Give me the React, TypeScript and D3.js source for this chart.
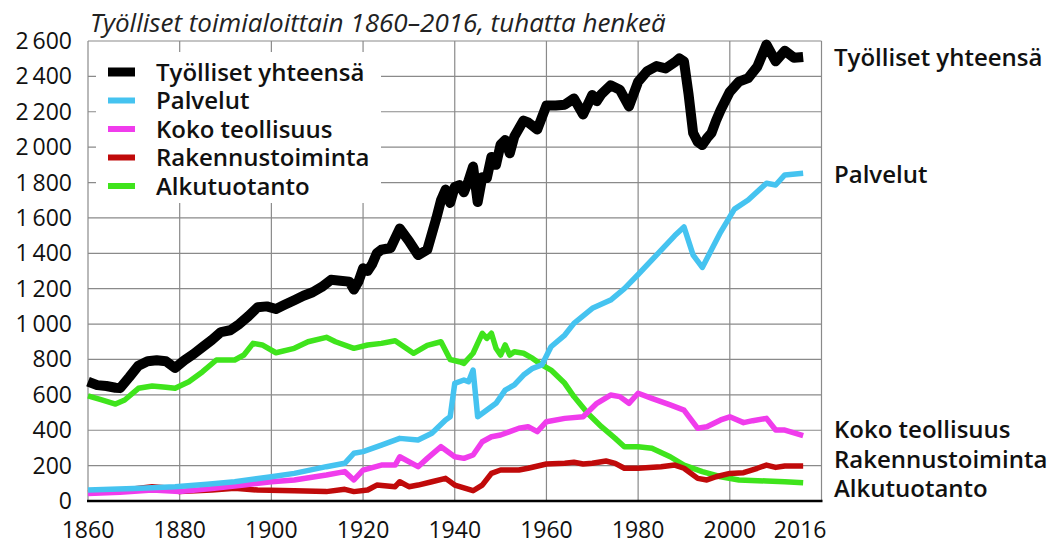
import * as d3 from 'd3';

// Työlliset toimialoittain 1860–2016, tuhatta henkeä
const total: [number, number][] = [
  [1860, 675], [1862, 655], [1864, 650], [1866, 640], [1867, 638], [1869, 700], [1871, 765], [1873, 790],
  [1875, 795], [1877, 790], [1879, 752], [1881, 795], [1883, 830], [1885, 870], [1887, 910], [1889, 955],
  [1891, 965], [1893, 1000], [1895, 1045], [1897, 1095], [1899, 1100], [1901, 1085], [1903, 1110], [1905, 1135],
  [1907, 1160], [1909, 1180], [1911, 1210], [1913, 1250], [1915, 1245], [1917, 1240], [1918, 1195], [1919, 1240],
  [1920, 1315], [1921, 1300], [1922, 1340], [1923, 1400], [1924, 1420], [1926, 1430], [1928, 1540], [1930, 1470],
  [1932, 1390], [1934, 1420], [1936, 1600], [1937, 1700], [1938, 1760], [1939, 1685], [1940, 1775], [1941, 1785],
  [1942, 1745], [1943, 1810], [1944, 1890], [1945, 1690], [1946, 1830], [1947, 1825], [1948, 1945], [1949, 1900],
  [1950, 2015], [1951, 2040], [1952, 1965], [1953, 2060], [1954, 2105], [1955, 2150], [1956, 2140], [1958, 2100],
  [1960, 2235], [1962, 2235], [1964, 2240], [1966, 2275], [1968, 2185], [1970, 2295], [1971, 2260], [1972, 2300],
  [1974, 2350], [1976, 2325], [1978, 2230], [1980, 2370], [1982, 2430], [1984, 2458], [1986, 2445], [1988, 2480],
  [1989, 2502], [1990, 2485], [1991, 2300], [1992, 2080], [1993, 2030], [1994, 2012], [1995, 2050], [1996, 2080],
  [1997, 2150], [1998, 2210], [2000, 2313], [2002, 2370], [2004, 2390], [2006, 2455], [2008, 2580], [2010, 2485],
  [2012, 2545], [2014, 2505], [2016, 2510],
];

const services: [number, number][] = [
  [1860, 62], [1870, 70], [1879, 81], [1886, 95], [1892, 109], [1900, 137], [1905, 156], [1912, 194],
  [1916, 213], [1918, 270], [1920, 279], [1924, 316], [1928, 354], [1932, 345], [1935, 383], [1938, 458],
  [1939, 476], [1940, 665], [1942, 684], [1943, 674], [1944, 740], [1945, 476], [1947, 514], [1949, 552],
  [1951, 627], [1953, 656], [1955, 712], [1957, 750], [1959, 769], [1961, 872], [1964, 938], [1966, 1004],
  [1970, 1089], [1974, 1136], [1977, 1200], [1980, 1280], [1984, 1390], [1988, 1500], [1990, 1549], [1992, 1390],
  [1994, 1320], [1996, 1420], [1998, 1520], [2001, 1650], [2004, 1701], [2008, 1796], [2010, 1786], [2012, 1843],
  [2016, 1852],
];

const industry: [number, number][] = [
  [1860, 43], [1867, 50], [1874, 62], [1880, 53], [1887, 70], [1894, 90], [1900, 109], [1905, 119],
  [1912, 147], [1916, 166], [1918, 119], [1920, 175], [1924, 203], [1927, 203], [1928, 250], [1932, 194],
  [1934, 241], [1937, 307], [1940, 250], [1942, 241], [1944, 260], [1946, 335], [1948, 363], [1950, 373],
  [1952, 392], [1954, 411], [1956, 420], [1958, 392], [1960, 448], [1964, 467], [1968, 476], [1971, 552],
  [1974, 599], [1976, 590], [1978, 552], [1980, 609], [1983, 580], [1987, 543], [1990, 514], [1993, 411],
  [1995, 420], [1998, 458], [2000, 476], [2003, 443], [2005, 454], [2008, 467], [2010, 401], [2012, 401],
  [2016, 370],
];

const construction: [number, number][] = [
  [1860, 47], [1865, 53], [1868, 62], [1874, 81], [1878, 72], [1880, 53], [1887, 62], [1892, 72],
  [1897, 62], [1905, 58], [1912, 53], [1916, 66], [1918, 53], [1921, 62], [1923, 90], [1927, 81],
  [1928, 109], [1930, 81], [1932, 90], [1935, 109], [1938, 128], [1940, 90], [1944, 58], [1946, 90],
  [1948, 156], [1950, 175], [1954, 175], [1956, 185], [1960, 209], [1964, 213], [1966, 219], [1968, 209],
  [1970, 213], [1973, 226], [1975, 213], [1977, 185], [1980, 185], [1985, 194], [1988, 203], [1990, 185],
  [1993, 128], [1995, 119], [1997, 137], [2000, 156], [2003, 160], [2006, 185], [2008, 203], [2010, 190],
  [2012, 198], [2016, 198],
];

const primary: [number, number][] = [
  [1860, 594], [1863, 571], [1866, 548], [1868, 571], [1871, 637], [1874, 650], [1877, 643], [1879, 637],
  [1882, 674], [1885, 731], [1888, 797], [1892, 797], [1894, 825], [1896, 891], [1898, 882], [1901, 838],
  [1905, 863], [1908, 900], [1912, 925], [1914, 900], [1918, 863], [1921, 882], [1924, 891], [1927, 906],
  [1931, 835], [1934, 880], [1937, 900], [1939, 800], [1941, 787], [1942, 778], [1944, 835], [1946, 948],
  [1947, 919], [1948, 948], [1949, 863], [1950, 825], [1951, 882], [1952, 825], [1953, 844], [1955, 835],
  [1957, 806], [1959, 769], [1961, 740], [1964, 665], [1966, 590], [1969, 496], [1972, 420], [1975, 354],
  [1977, 307], [1980, 307], [1983, 298], [1987, 250], [1990, 203], [1994, 166], [1998, 137], [2002, 119],
  [2008, 113], [2012, 109], [2016, 103],
];

const seriesNames = ['Työlliset yhteensä', 'Palvelut', 'Koko teollisuus', 'Rakennustoiminta', 'Alkutuotanto'];
const seriesColors = ['#000000', '#45c3f0', '#f03cec', '#c00a0a', '#3fe41c'];
const seriesWidths = [10, 5.5, 5.5, 5.5, 5.5];
const seriesData = [total, services, industry, construction, primary];

const xTicks = [1860, 1880, 1900, 1920, 1940, 1960, 1980, 2000, 2016];
const xGrid = [1880, 1900, 1920, 1940, 1960, 1980, 2000];
const yTicks = [0, 200, 400, 600, 800, 1000, 1200, 1400, 1600, 1800, 2000, 2200, 2400, 2600];

// baseline of the right-side end labels, px
const endLabelY = [66, 183, 438, 468, 497];

const title = 'Työlliset toimialoittain 1860–2016, tuhatta henkeä';

const W = 1047;
const H = 544;
const font = '"Open Sans", "Noto Sans", sans-serif';

export default function App() {
  const x = d3.scaleLinear().domain([1860, 2020]).range([88, 821.5]);
  const y = d3.scaleLinear().domain([0, 2600]).range([501, 41]);
  const fmt = d3.formatLocale({ decimal: ',', thousands: '\u2009', grouping: [3], currency: ['', ''] }).format(',d');

  const line = d3.line<[number, number]>()
    .x(d => x(d[0]))
    .y(d => y(d[1]));

  const legendY = (i: number) => 72 + i * 28.5;

  return (
    <svg width={W} height={H} style={{ position: 'absolute', left: 0, top: 0, background: '#fff' }} fontFamily={font}>
      <rect x={0} y={0} width={W} height={H} fill="#fff" />
      <text x={90} y={32} fontSize={26} fontStyle="italic" fill="#222">{title}</text>

      {/* grid */}
      {yTicks.filter(t => t > 0).map(t => (
        <line key={'h' + t} x1={x(1860)} x2={x(2020)} y1={y(t)} y2={y(t)} stroke="#8a8a8a" strokeWidth={1.2} />
      ))}
      {xGrid.map(t => (
        <line key={'v' + t} x1={x(t)} x2={x(t)} y1={y(2600)} y2={y(0)} stroke="#8a8a8a" strokeWidth={1.2} />
      ))}
      <line x1={x(1860)} x2={x(1860)} y1={y(2600)} y2={y(0)} stroke="#8a8a8a" strokeWidth={1.2} />
      <line x1={x(2020)} x2={x(2020)} y1={y(2600)} y2={y(0)} stroke="#8a8a8a" strokeWidth={1.2} />

      {/* legend box hides grid */}
      <rect x={96} y={52} width={285} height={151} fill="#fff" />

      {/* series, drawn back to front */}
      {[4, 3, 2, 1, 0].map(i => (
        <path key={seriesNames[i]} d={line(seriesData[i]) ?? ''} fill="none" stroke={seriesColors[i]}
          strokeWidth={seriesWidths[i]} strokeLinejoin="round" strokeLinecap="butt" />
      ))}

      {/* bottom axis */}
      <line x1={x(1860) - 1} x2={x(2020) + 1} y1={y(0)} y2={y(0)} stroke="#000" strokeWidth={2.5} />

      {/* y labels */}
      {yTicks.map(t => (
        <text key={'yl' + t} x={72} y={y(t) + 8} fontSize={23} textAnchor="end" fill="#111">{fmt(t)}</text>
      ))}
      {/* x labels */}
      {xTicks.map(t => (
        <text key={'xl' + t} x={t === 2016 ? x(t) - 3 : x(t)} y={538} fontSize={23} textAnchor="middle" fill="#111">{t}</text>
      ))}

      {/* legend */}
      {seriesNames.map((n, i) => (
        <g key={'lg' + n}>
          <rect x={108} y={legendY(i) - (i === 0 ? 4.5 : 3)} width={27} height={i === 0 ? 9 : 6} fill={seriesColors[i]} />
          <text x={156} y={legendY(i) + 8.5} fontSize={24} fontWeight={600} fill="#111">{n}</text>
        </g>
      ))}

      {/* end labels */}
      {seriesNames.map((n, i) => (
        <text key={'el' + n} x={834} y={endLabelY[i]} fontSize={24} fontWeight={600} fill="#111">{n}</text>
      ))}
    </svg>
  );
}
